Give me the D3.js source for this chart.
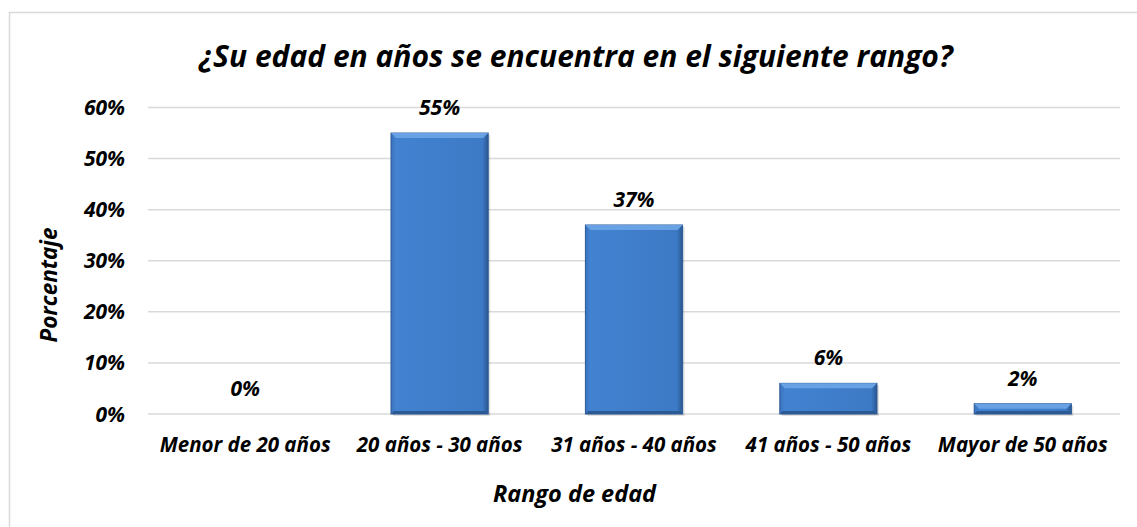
<!DOCTYPE html>
<html>
<head>
<meta charset="utf-8">
<script src="https://cdn.jsdelivr.net/npm/d3@7"></script>
<style>
  body { margin: 0; background: #fff; }
  text { font-family: "Open Sans", sans-serif; font-style: italic; font-weight: bold; fill: #000; }
</style>
</head>
<body>
<div id="chart"></div>
<script>
const categories = ['Menor de 20 años', '20 años - 30 años', '31 años - 40 años', '41 años - 50 años', 'Mayor de 50 años'];
const values = [0, 55, 37, 6, 2];
const yTicks = [0, 10, 20, 30, 40, 50, 60];
const title = '¿Su edad en años se encuentra en el siguiente rango?';
const xTitle = 'Rango de edad';
const yTitle = 'Porcentaje';

const W = 1137;
const H = 527;
const margin = { top: 107.5, right: 17, bottom: 113, left: 148 };

const svg = d3.select('#chart').append('svg')
  .attr('width', W)
  .attr('height', H);

const defs = svg.append('defs');
const side = defs.append('linearGradient')
  .attr('id', 'sideGrad')
  .attr('x1', 0).attr('y1', 0).attr('x2', 1).attr('y2', 0);
side.append('stop').attr('offset', '0%').attr('stop-color', '#3a72bd');
side.append('stop').attr('offset', '5%').attr('stop-color', '#4282d0');
side.append('stop').attr('offset', '94%').attr('stop-color', '#3d7ac6');
side.append('stop').attr('offset', '100%').attr('stop-color', '#2a5690');

// outer frame
svg.append('rect')
  .attr('x', 9.5).attr('y', 12.5)
  .attr('width', W + 10).attr('height', H + 10)
  .attr('fill', 'none')
  .attr('stroke', '#d9d9d9')
  .attr('stroke-width', 1.5);

const x = d3.scaleBand()
  .domain(categories)
  .range([margin.left, W - margin.right])
  .paddingInner(0.5)
  .paddingOuter(0.25);

const y = d3.scaleLinear()
  .domain([0, 60])
  .range([H - margin.bottom, margin.top]);

// grid
svg.append('g')
  .selectAll('line')
  .data(yTicks)
  .join('line')
  .attr('x1', margin.left)
  .attr('x2', W - margin.right)
  .attr('y1', d => y(d))
  .attr('y2', d => y(d))
  .attr('stroke', '#d9d9d9')
  .attr('stroke-width', 1.5);

// y tick labels
svg.append('g')
  .selectAll('text')
  .data(yTicks)
  .join('text')
  .attr('x', 125)
  .attr('y', d => y(d) + 7.5)
  .attr('text-anchor', 'end')
  .style('font-size', '21px')
  .text(d => `${d}%`);

const rows = values.map((v, i) => ({ cat: categories[i], v }));

// bars
const bars = svg.append('g')
  .selectAll('g')
  .data(rows.filter(d => d.v > 0))
  .join('g');

bars.append('rect')
  .attr('x', d => x(d.cat) + 2)
  .attr('y', d => y(d.v) + 2)
  .attr('width', x.bandwidth())
  .attr('height', d => y(0) - y(d.v))
  .attr('fill', '#000')
  .attr('opacity', 0.12);

bars.append('rect')
  .attr('x', d => x(d.cat))
  .attr('y', d => y(d.v))
  .attr('width', x.bandwidth())
  .attr('height', d => y(0) - y(d.v))
  .attr('fill', 'url(#sideGrad)')
  .attr('stroke', '#2c5a96')
  .attr('stroke-width', 1);

// top bevel
bars.append('path')
  .attr('d', (d) => {
    const x0 = x(d.cat);
    const x1 = x0 + x.bandwidth();
    const y0 = y(d.v);
    const b = Math.min(5, (y(0) - y(d.v)) / 2);
    return `M${x0},${y0}L${x1},${y0}L${x1 - b},${y0 + b}L${x0 + b},${y0 + b}Z`;
  })
  .attr('fill', '#68a2e4');

// bottom bevel
bars.append('path')
  .attr('d', (d) => {
    const x0 = x(d.cat);
    const x1 = x0 + x.bandwidth();
    const y1 = y(0);
    const b = Math.min(3, (y(0) - y(d.v)) / 2);
    return `M${x0},${y1}L${x1},${y1}L${x1 - b},${y1 - b}L${x0 + b},${y1 - b}Z`;
  })
  .attr('fill', '#2a5994');

// value labels
svg.append('g')
  .selectAll('text')
  .data(rows)
  .join('text')
  .attr('x', d => x(d.cat) + x.bandwidth() / 2)
  .attr('y', d => y(d.v) - 18)
  .attr('text-anchor', 'middle')
  .style('font-size', '21px')
  .text(d => `${d.v}%`);

// category labels
svg.append('g')
  .selectAll('text')
  .data(categories)
  .join('text')
  .attr('x', d => x(d) + x.bandwidth() / 2)
  .attr('y', 451.5)
  .attr('text-anchor', 'middle')
  .style('font-size', '20.5px')
  .text(d => d);

svg.append('text')
  .attr('x', 576)
  .attr('y', 67)
  .attr('text-anchor', 'middle')
  .style('font-size', '30px')
  .text(title);

svg.append('text')
  .attr('x', 574.5)
  .attr('y', 502)
  .attr('text-anchor', 'middle')
  .style('font-size', '23.5px')
  .text(xTitle);

svg.append('text')
  .attr('transform', 'translate(57,285) rotate(-90)')
  .attr('text-anchor', 'middle')
  .style('font-size', '22.5px')
  .text(yTitle);
</script>
</body>
</html>
